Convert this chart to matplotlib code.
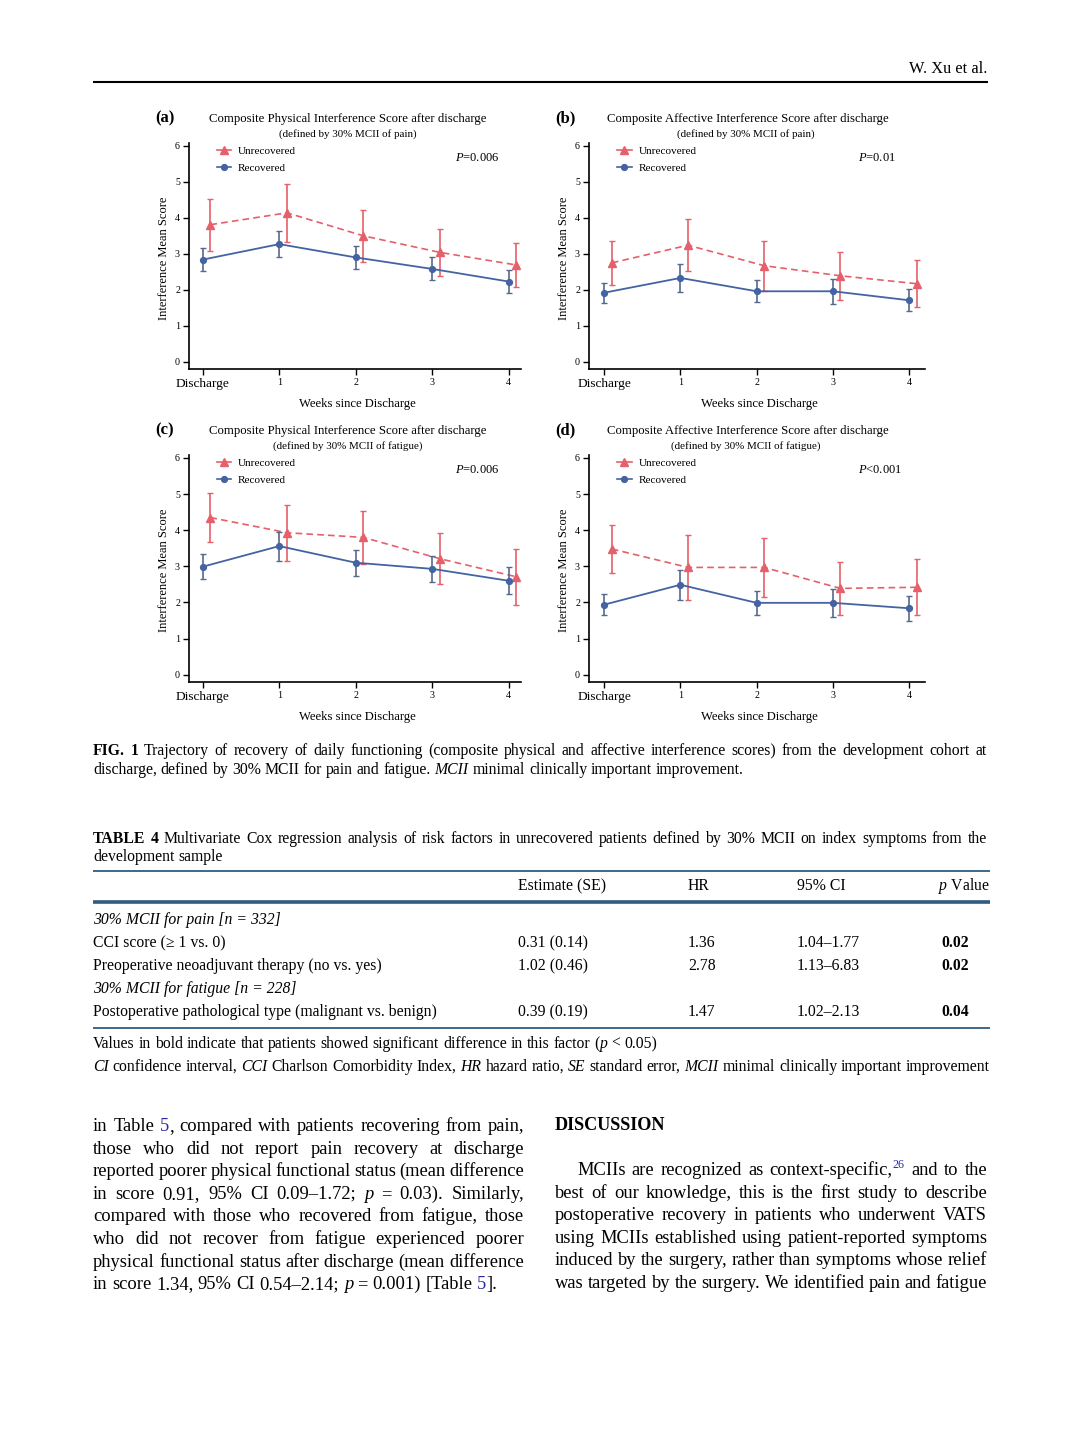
import re
import matplotlib
matplotlib.use('Agg')
import matplotlib.pyplot as plt
from matplotlib.lines import Line2D

W, H = 1080, 1435
plt.rcParams['font.family'] = ['Liberation Serif', 'DejaVu Serif']
plt.rcParams['mathtext.fontset'] = 'custom'
plt.rcParams['mathtext.rm'] = 'Liberation Serif'
plt.rcParams['mathtext.it'] = 'Liberation Serif:italic'
plt.rcParams['mathtext.bf'] = 'Liberation Serif:bold'

# ---------------- data ----------------
x_labels = ['Discharge', '1', '2', '3', '4']
weeks = [0, 1, 2, 3, 4]

a_rec = [2.84, 3.27, 2.90, 2.58, 2.23]
a_rec_err = [0.31, 0.36, 0.32, 0.32, 0.33]
a_unr = [3.81, 4.14, 3.50, 3.04, 2.69]
a_unr_err = [0.72, 0.80, 0.72, 0.66, 0.62]

b_rec = [1.92, 2.33, 1.96, 1.96, 1.71]
b_rec_err = [0.28, 0.39, 0.30, 0.35, 0.30]
b_unr = [2.75, 3.24, 2.67, 2.39, 2.17]
b_unr_err = [0.61, 0.73, 0.70, 0.67, 0.65]

c_rec = [2.99, 3.56, 3.10, 2.93, 2.60]
c_rec_err = [0.35, 0.40, 0.36, 0.35, 0.37]
c_unr = [4.35, 3.93, 3.80, 3.21, 2.71]
c_unr_err = [0.67, 0.77, 0.73, 0.70, 0.77]

d_rec = [1.94, 2.49, 1.99, 1.99, 1.84]
d_rec_err = [0.30, 0.41, 0.34, 0.38, 0.35]
d_unr = [3.48, 2.97, 2.97, 2.39, 2.42]
d_unr_err = [0.66, 0.89, 0.82, 0.73, 0.77]

panel_letters = ['(a)', '(b)', '(c)', '(d)']
panel_titles = ['Composite Physical Interference Score after discharge',
                'Composite Affective Interference Score after discharge',
                'Composite Physical Interference Score after discharge',
                'Composite Affective Interference Score after discharge']
panel_subtitles = ['(defined by 30% MCII of pain)', '(defined by 30% MCII of pain)',
                   '(defined by 30% MCII of fatigue)', '(defined by 30% MCII of fatigue)']
panel_p = ['$P$=0.006', '$P$=0.01', '$P$=0.006', '$P$<0.001']
series_names = ['Unrecovered', 'Recovered']
y_label = 'Interference Mean Score'
x_label = 'Weeks since Discharge'

caption_lines = [
    '{b|FIG.} {b|1} Trajectory of recovery of daily functioning (composite physical and affective interference scores) from the development cohort at',
    'discharge, defined by 30% MCII for pain and fatigue. {i|MCII} minimal clinically important improvement.',
]
table_title_lines = [
    '{b|TABLE} {b|4} Multivariate Cox regression analysis of risk factors in unrecovered patients defined by 30% MCII on index symptoms from the',
    'development sample',
]
table_headers = ['Estimate (SE)', 'HR', '95% CI']
table_p_header = '$p$ Value'
table_groups = ['30% MCII for pain [n = 332]', '30% MCII for fatigue [n = 228]']
table_factors = ['CCI score (≥ 1 vs. 0)', 'Preoperative neoadjuvant therapy (no vs. yes)',
                 'Postoperative pathological type (malignant vs. benign)']
table_estimates = ['0.31 (0.14)', '1.02 (0.46)', '0.39 (0.19)']
table_hr = ['1.36', '2.78', '1.47']
table_ci = ['1.04–1.77', '1.13–6.83', '1.02–2.13']
table_p = ['0.02', '0.02', '0.04']
table_notes = [
    'Values in bold indicate that patients showed significant difference in this factor ({i|p} < 0.05)',
    '{i|CI} confidence interval, {i|CCI} Charlson Comorbidity Index, {i|HR} hazard ratio, {i|SE} standard error, {i|MCII} minimal clinically important improvement',
]
left_col = [
    'in Table {l|5}, compared with patients recovering from pain,',
    'those who did not report pain recovery at discharge',
    'reported poorer physical functional status (mean difference',
    'in score 0.91, 95% CI 0.09–1.72; {i|p} = 0.03). Similarly,',
    'compared with those who recovered from fatigue, those',
    'who did not recover from fatigue experienced poorer',
    'physical functional status after discharge (mean difference',
    'in score 1.34, 95% CI 0.54–2.14; {i|p} = 0.001) [Table {l|5}].',
]
right_col = [
    'MCIIs are recognized as context-specific,{s|26} and to the',
    'best of our knowledge, this is the first study to describe',
    'postoperative recovery in patients who underwent VATS',
    'using MCIIs established using patient-reported symptoms',
    'induced by the surgery, rather than symptoms whose relief',
    'was targeted by the surgery. We identified pain and fatigue',
]

RED = '#E5606A'
BLUE = '#4463A3'
LINK = '#2A2AA0'
RULE = '#2E5C82'

fig = plt.figure(figsize=(W / 100, H / 100), dpi=100)
fig.patch.set_facecolor('white')
renderer = fig.canvas.get_renderer()


def fx(x):
    return x / W


def fy(y):
    return 1 - y / H


def hline(x0, x1, y, lw, color):
    fig.add_artist(Line2D([fx(x0), fx(x1)], [fy(y), fy(y)], transform=fig.transFigure,
                          lw=lw, color=color, solid_capstyle='butt'))


def parse_words(line):
    words = []
    for w in line.split(' '):
        segs = []
        for m in re.finditer(r'\{(\w)\|([^}]*)\}|([^{]+)', w):
            if m.group(1):
                segs.append((m.group(2), m.group(1)))
            else:
                segs.append((m.group(3), ''))
        words.append(segs)
    return words


def seg_props(kind, size):
    p = dict(fontsize=size, color='black')
    if kind == 'b':
        p['fontweight'] = 'bold'
    elif kind == 'i':
        p['fontstyle'] = 'italic'
    elif kind == 'l':
        p['color'] = LINK
    elif kind == 's':
        p['color'] = LINK
        p['fontsize'] = size * 0.65
    return p


def text_line(line, x0, x1, y, size, justify=True):
    words = parse_words(line)
    px = size * 100 / 72
    objs = []
    widths = []
    for segs in words:
        wobjs = []
        ww = 0
        for s, kind in segs:
            t = fig.text(0, 0, s, va='baseline', ha='left', **seg_props(kind, size))
            bb = t.get_window_extent(renderer)
            wobjs.append((t, ww, kind))
            ww += bb.width
        objs.append(wobjs)
        widths.append(ww)
    space = 0.25 * px
    total = sum(widths)
    if justify and len(words) > 1:
        gap = (x1 - x0 - total) / (len(words) - 1)
    else:
        gap = space
    x = x0
    for wobjs, ww in zip(objs, widths):
        for t, off, kind in wobjs:
            yy = y - (0.4 * px if kind == 's' else 0)
            t.set_position((fx(x + off), fy(yy)))
        x += ww + gap


# ---------------- header ----------------
fig.text(fx(987), fy(73), 'W. Xu et al.', ha='right', va='baseline', fontsize=11.8)
hline(93, 988, 82, 1.5, 'black')

# ---------------- panels ----------------
boxes = [(189, 521, 143, 369), (589, 925, 143, 369),
         (189, 521, 455, 682), (589, 925, 455, 682)]
xlims = [(-0.18, 4.16), (-0.2, 4.21), (-0.18, 4.16), (-0.2, 4.21)]
recs = [(a_rec, a_rec_err), (b_rec, b_rec_err), (c_rec, c_rec_err), (d_rec, d_rec_err)]
unrs = [(a_unr, a_unr_err), (b_unr, b_unr_err), (c_unr, c_unr_err), (d_unr, d_unr_err)]

for i in range(4):
    l, r, t, b = boxes[i]
    ax = fig.add_axes([fx(l), fy(b), (r - l) / W, (b - t) / H])
    (ru, ru_e), (rr, rr_e) = unrs[i], recs[i]
    ax.errorbar([w + 0.1 for w in weeks], ru, yerr=ru_e, color=RED, ls=(0, (4, 2.5)),
                lw=1.2, marker='^', ms=6, capsize=2.2, elinewidth=1.2, capthick=1.0, zorder=2)
    ax.errorbar(weeks, rr, yerr=rr_e, color=BLUE, ls='-', lw=1.3, marker='o', ms=4.2,
                capsize=2.2, elinewidth=1.2, capthick=1.0, ecolor='#56688E', zorder=3)
    ax.set_xlim(*xlims[i])
    ax.set_ylim(-0.2, 6.08)
    ax.set_yticks([0, 1, 2, 3, 4, 5, 6])
    ax.set_xticks(weeks)
    ax.set_xticklabels(x_labels)
    ax.tick_params(direction='out', length=4, width=1, labelsize=7.2, pad=2.5)
    for k, lab in enumerate(ax.get_xticklabels()):
        lab.set_fontsize(9.6 if k == 0 else 7.2)
    for sp in ['top', 'right']:
        ax.spines[sp].set_visible(False)
    for sp in ['left', 'bottom']:
        ax.spines[sp].set_linewidth(1.2)
    h1 = Line2D([], [], color=RED, marker='^', ms=6, lw=1.2)
    h2 = Line2D([], [], color=BLUE, marker='o', ms=4.2, lw=1.2)
    ax.legend([h1, h2], series_names, loc='upper left', bbox_to_anchor=(0.07, 1.005),
              frameon=False, fontsize=8.1, handlelength=1.3, handletextpad=0.6,
              labelspacing=0.6, borderaxespad=0)
    ax.text(0.8, 0.935, panel_p[i], transform=ax.transAxes, fontsize=9, ha='left', va='center')

    # titles and labels
    cx = (l + r) / 2
    fig.text(fx(l - 34), fy(t - 21), panel_letters[i], fontsize=12, fontweight='bold',
             ha='left', va='baseline')
    fig.text(fx(cx - 7 if i % 2 == 0 else cx - 9), fy(t - 21), panel_titles[i],
             fontsize=9.2, ha='center', va='baseline')
    fig.text(fx(cx - 7 if i % 2 == 0 else cx - 11), fy(t - 6), panel_subtitles[i],
             fontsize=7.9, ha='center', va='baseline')
    fig.text(fx(l - 25), fy((t + b) / 2 + 2), y_label, rotation=90, fontsize=9,
             ha='center', va='center')
    fig.text(fx(cx + 2), fy(b + 38), x_label, fontsize=9.1, ha='center', va='baseline')

# ---------------- caption ----------------
cap_size = 11.3
text_line(caption_lines[0], 93, 987, 755, cap_size, justify=True)
text_line(caption_lines[1], 93, 987, 774, cap_size, justify=False)

# ---------------- table ----------------
text_line(table_title_lines[0], 93, 987, 843, cap_size, justify=True)
text_line(table_title_lines[1], 93, 987, 861, cap_size, justify=False)
hline(93, 990, 871, 1.3, RULE)
hline(93, 990, 902, 2.6, RULE)
hline(93, 990, 1028, 1.3, RULE)

col_x = [518, 688, 797]
for xx, h in zip(col_x, table_headers):
    fig.text(fx(xx), fy(890), h, fontsize=cap_size, ha='left', va='baseline')
fig.text(fx(990), fy(890), table_p_header, fontsize=cap_size, ha='right', va='baseline')

row_y = [924, 947, 970, 993, 1016]
fig.text(fx(93), fy(row_y[0]), table_groups[0], fontsize=cap_size, fontstyle='italic',
         va='baseline')
fig.text(fx(93), fy(row_y[3]), table_groups[1], fontsize=cap_size, fontstyle='italic',
         va='baseline')
for k, yy in enumerate([row_y[1], row_y[2], row_y[4]]):
    fig.text(fx(93), fy(yy), table_factors[k], fontsize=cap_size, va='baseline')
    fig.text(fx(col_x[0]), fy(yy), table_estimates[k], fontsize=cap_size, va='baseline')
    fig.text(fx(col_x[1]), fy(yy), table_hr[k], fontsize=cap_size, va='baseline')
    fig.text(fx(col_x[2]), fy(yy), table_ci[k], fontsize=cap_size, va='baseline')
    fig.text(fx(941), fy(yy), table_p[k], fontsize=cap_size, fontweight='bold', va='baseline')

text_line(table_notes[0], 93, 990, 1048, cap_size, justify=False)
text_line(table_notes[1], 93, 990, 1071, cap_size, justify=True)

# ---------------- body text ----------------
body_size = 13.3
lead = 22.6
for k, line in enumerate(left_col):
    text_line(line, 93, 524, 1131 + k * lead, body_size, justify=(k < len(left_col) - 1))

fig.text(fx(555), fy(1130), 'DISCUSSION', fontsize=13.1, fontweight='bold', va='baseline')
for k, line in enumerate(right_col):
    x0 = 577 if k == 0 else 555
    text_line(line, x0, 987, 1175 + k * lead, body_size, justify=True)

fig.savefig('out.png', dpi=100, facecolor='white')
